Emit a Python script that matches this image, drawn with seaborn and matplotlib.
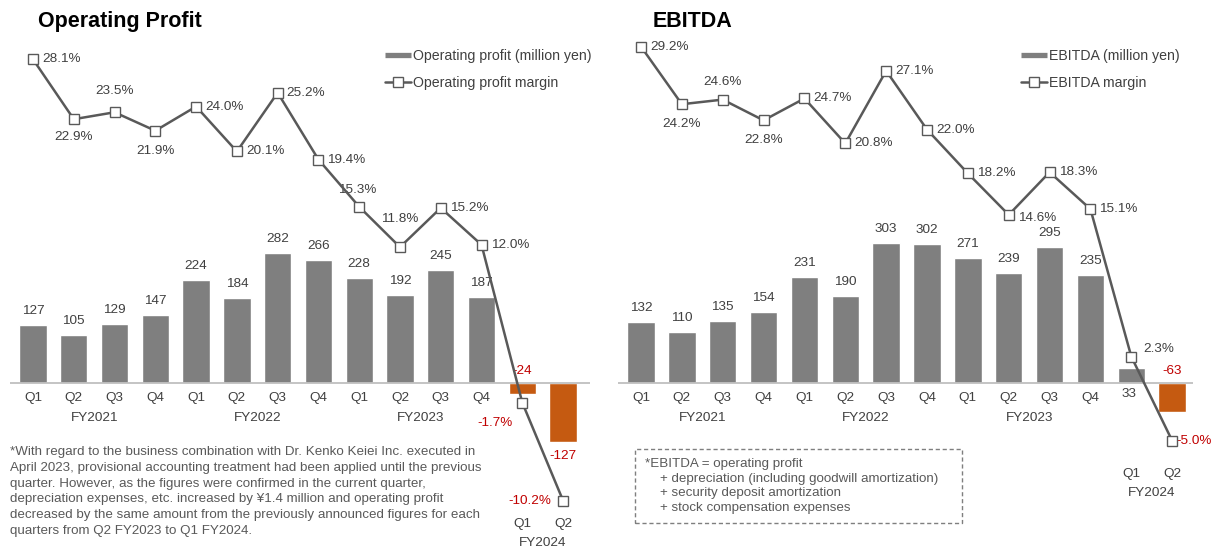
import matplotlib
matplotlib.use("Agg")
import matplotlib.pyplot as plt
from matplotlib.lines import Line2D
from matplotlib.patches import Rectangle
import numpy as np
import pandas as pd
import seaborn as sns

# ---- data -------------------------------------------------------------
quarters = ["Q1", "Q2", "Q3", "Q4"] * 3 + ["Q1", "Q2"]
fiscal_years = ["FY2021", "FY2022", "FY2023", "FY2024"]
fy_index = [0, 0, 0, 0, 1, 1, 1, 1, 2, 2, 2, 2, 3, 3]

op_profit = [127, 105, 129, 147, 224, 184, 282, 266, 228, 192, 245, 187, -24, -127]
op_margin = [28.1, 22.9, 23.5, 21.9, 24.0, 20.1, 25.2, 19.4, 15.3, 11.8, 15.2, 12.0, -1.7, -10.2]

ebitda = [132, 110, 135, 154, 231, 190, 303, 302, 271, 239, 295, 235, 33, -63]
ebitda_margin = [29.2, 24.2, 24.6, 22.8, 24.7, 20.8, 27.1, 22.0, 18.2, 14.6, 18.3, 15.1, 2.3, -5.0]

# ---- styling ----------------------------------------------------------
sns.set_theme(style="white")
plt.rcParams["font.family"] = ["Liberation Sans", "DejaVu Sans"]

W, H = 1223, 554
GRAY = "#7f7f7f"
ORANGE = "#c55a11"
RED = "#c00000"
TXT = "#404040"
NOTE = "#595959"
LINE = "#595959"
FS = 9.7

fig = plt.figure(figsize=(W / 100, H / 100), dpi=100)

# label placement for the margin line: (dx, dy) in pixels, horizontal alignment
op_margin_place = [(9, 0, "left"), (0, -18, "center"), (0, 21, "center"), (0, -20, "center"),
                   (9, 0, "left"), (9, 0, "left"), (9, 0, "left"), (9, 0, "left"),
                   (-2, 17, "center"), (0, 28, "center"), (9, 0, "left"), (9, 0, "left"),
                   (-10, -20, "right"), (-12, 0, "right")]
ebitda_margin_place = [(9, 0, "left"), (0, -20, "center"), (0, 18, "center"), (0, -20, "center"),
                       (9, 0, "left"), (9, 0, "left"), (9, 0, "left"), (9, 0, "left"),
                       (9, 0, "left"), (9, -3, "left"), (9, 0, "left"), (9, 0, "left"),
                       (12, 8, "left"), (4, 0, "left")]
# bar label placement: "end" = beyond the bar end, "above0"/"below0" = next to the baseline
op_bar_place = ["end"] * 12 + ["above0", "end"]
ebitda_bar_place = ["end"] * 12 + ["below0", "above0"]


def panel(rect, xlim, title, title_x, values, margins, margin_place, bar_place,
          bar_name, line_name, legend_x, fy24_dy):
    ax = fig.add_axes(rect)
    df = pd.DataFrame({"pos": np.arange(len(values)), "value": values,
                       "margin": margins, "quarter": quarters})
    colors = [GRAY if v >= 0 else ORANGE for v in values]
    sns.barplot(data=df, x="pos", y="value", hue="pos", palette=colors, legend=False,
                width=0.67, saturation=1, ax=ax, native_scale=True)
    ax.axhline(0, color="#bfbfbf", lw=1.3, zorder=3)
    ax.set_xlim(*xlim)
    ax.set_ylim(-297, 766)
    ax.axis("off")

    ax2 = ax.twinx()
    sns.lineplot(data=df, x="pos", y="margin", ax=ax2, color=LINE, lw=1.8,
                 marker="s", markersize=7.5, markerfacecolor="white",
                 markeredgecolor=LINE, markeredgewidth=1.0, zorder=5)
    ax2.set_xlim(*xlim)
    ax2.set_ylim(-297 / 25, 766 / 25)
    ax2.axis("off")

    # bar value labels
    for i, (v, p) in enumerate(zip(values, bar_place)):
        c = TXT if v >= 0 else RED
        if p == "end":
            ax.annotate(f"{v}", (i, v), xytext=(0, 14 if v >= 0 else -14),
                        textcoords="offset pixels", ha="center", va="center",
                        fontsize=FS, color=c)
        elif p == "above0":
            ax.annotate(f"{v}", (i, 0), xytext=(0, 12), textcoords="offset pixels",
                        ha="center", va="center", fontsize=FS, color=c)
        else:
            ax.annotate(f"{v}", (i, 0), xytext=(-2, -11), textcoords="offset pixels",
                        ha="center", va="center", fontsize=FS, color=c)

    # margin labels
    for i, (m, (dx, dy, ha)) in enumerate(zip(margins, margin_place)):
        c = TXT if m >= 0 else RED
        ax2.annotate(f"{m:.1f}%", (i, m), xytext=(dx, dy), textcoords="offset pixels",
                     ha=ha, va="center", fontsize=FS, color=c)

    # category axis labels
    for i, q in enumerate(quarters):
        dy = -15 if fy_index[i] < 3 else fy24_dy
        ax.annotate(q, (i, 0), xytext=(0, dy), textcoords="offset pixels",
                    ha="center", va="center", fontsize=FS, color=TXT)
    for k, fy in enumerate(fiscal_years):
        idx = [i for i, f in enumerate(fy_index) if f == k]
        dy = -35 if k < 3 else fy24_dy - 19
        ax.annotate(fy, (np.mean(idx), 0), xytext=(0, dy), textcoords="offset pixels",
                    ha="center", va="center", fontsize=FS, color=TXT)

    fig.text(title_x / W, 1 - 27 / H, title, fontsize=15.5, fontweight="bold",
             color="black", va="baseline", ha="left")

    handles = [Line2D([], [], color=GRAY, lw=3.8, solid_capstyle="butt"),
               Line2D([], [], color=LINE, lw=1.8, marker="s", markersize=7.5,
                      markerfacecolor="white", markeredgecolor=LINE, markeredgewidth=1.0)]
    fig.legend(handles, [bar_name, line_name], loc="upper left",
               bbox_to_anchor=(legend_x / W, 1 - 49 / H), frameon=False,
               fontsize=10.2, labelcolor=TXT, handlelength=1.85, handletextpad=0.15,
               labelspacing=0.95, borderpad=0, borderaxespad=0)
    return ax


panel([10 / W, 1 - 520 / H, 580 / W, 490 / H], (-0.564, 13.66), "Operating Profit", 38,
      op_profit, op_margin, op_margin_place, op_bar_place,
      "Operating profit (million yen)", "Operating profit margin", 385, -141)

panel([618 / W, 1 - 520 / H, 575 / W, 490 / H], (-0.563, 13.51), "EBITDA", 653,
      ebitda, ebitda_margin, ebitda_margin_place, ebitda_bar_place,
      "EBITDA (million yen)", "EBITDA margin", 1021, -91)

# footnotes
note_left = ("*With regard to the business combination with Dr. Kenko Keiei Inc. executed in\n"
             "April 2023, provisional accounting treatment had been applied until the previous\n"
             "quarter. However, as the figures were confirmed in the current quarter,\n"
             "depreciation expenses, etc. increased by ¥1.4 million and operating profit\n"
             "decreased by the same amount from the previously announced figures for each\n"
             "quarters from Q2 FY2023 to Q1 FY2024.")
fig.text(10 / W, 1 - 446 / H, note_left, fontsize=9.6, color=NOTE, va="top", ha="left",
         linespacing=1.42)

note_right = ("*EBITDA = operating profit\n"
              "    + depreciation (including goodwill amortization)\n"
              "    + security deposit amortization\n"
              "    + stock compensation expenses")
fig.text(645 / W, 1 - 458 / H, note_right, fontsize=9.6, color=NOTE, va="top", ha="left",
         linespacing=1.3)
fig.add_artist(Rectangle((635 / W, 1 - 523 / H), (962 - 635) / W, (523 - 449) / H,
                         transform=fig.transFigure, fill=False, ec="#7f7f7f",
                         ls=(0, (3, 2)), lw=1.0))

fig.savefig("out.png", dpi=100)
